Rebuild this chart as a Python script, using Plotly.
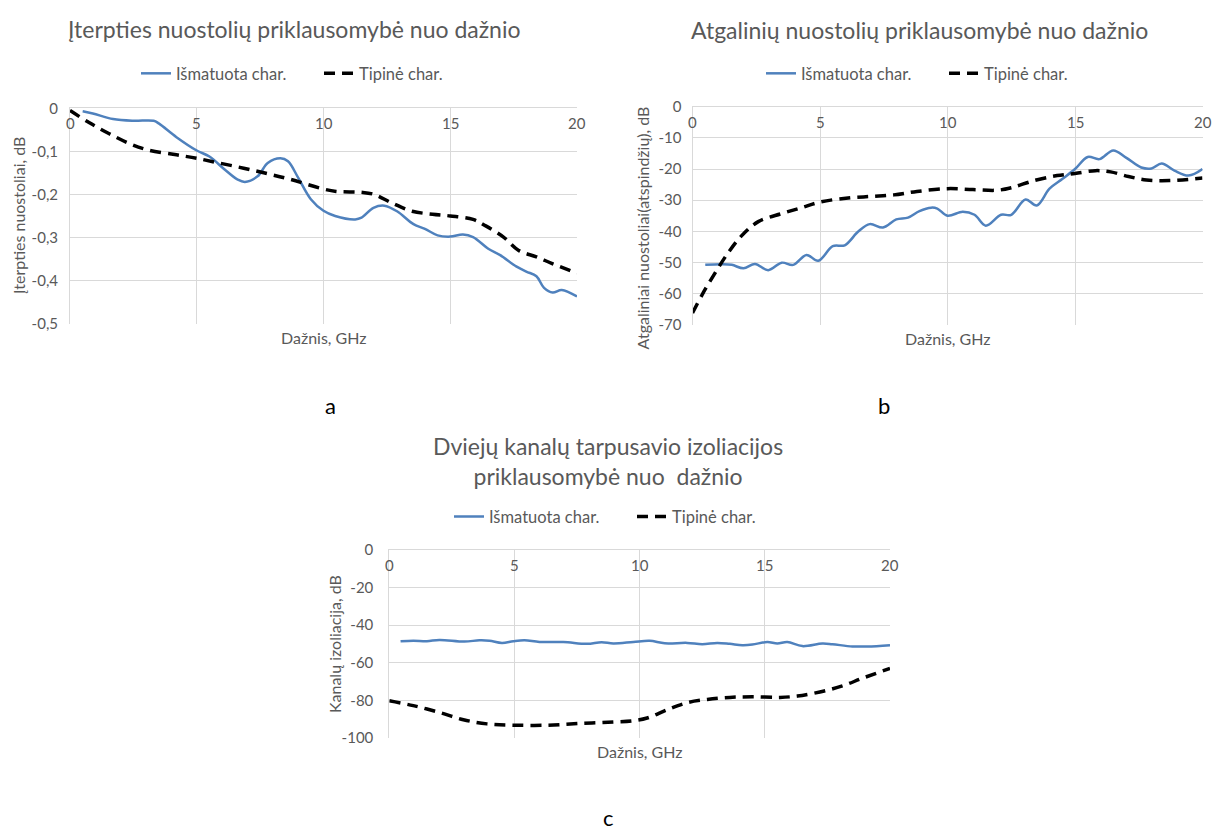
import plotly.graph_objects as go

# ---------------- data ----------------
# (a) insertion loss
a_meas_x = [0.5, 0.9, 1.7, 2.5, 3.3, 3.5, 4.2, 5.0, 5.5, 6.1, 6.6, 6.9, 7.4, 7.8, 8.3, 8.6, 9.0, 9.5,
            10.0, 10.46, 11.25, 11.5, 11.97, 12.4, 12.9, 13.55, 14.0, 14.5, 15.0, 15.5, 15.9, 16.5,
            16.97, 17.6, 18.0, 18.4, 18.7, 19.04, 19.4, 20.0]
a_meas_y = [-0.007, -0.012, -0.025, -0.029, -0.029, -0.035, -0.067, -0.098, -0.112, -0.142, -0.165,
            -0.171, -0.158, -0.127, -0.116, -0.123, -0.161, -0.211, -0.238, -0.25, -0.258, -0.254,
            -0.231, -0.226, -0.239, -0.269, -0.28, -0.295, -0.298, -0.293, -0.299, -0.326, -0.341,
            -0.367, -0.379, -0.39, -0.417, -0.428, -0.422, -0.437]
a_typ_x = [0.0, 0.75, 1.55, 2.35, 3.1, 4.2, 5.0, 5.8, 6.85, 7.8, 8.7, 9.9, 10.5, 11.5, 12.0, 12.7,
           13.5, 14.3, 15.0, 15.9, 16.4, 17.1, 17.7, 18.4, 19.0, 20.0]
a_typ_y = [-0.005, -0.033, -0.059, -0.082, -0.097, -0.108, -0.116, -0.126, -0.139, -0.152, -0.165,
           -0.186, -0.193, -0.195, -0.2, -0.22, -0.239, -0.246, -0.25, -0.258, -0.273, -0.299,
           -0.33, -0.345, -0.36, -0.383]

# (b) return loss
b_meas_x = [0.5, 1.15, 1.54, 2.0, 2.45, 2.97, 3.5, 3.95, 4.47, 4.93, 5.5, 5.97, 6.5, 6.95, 7.47,
            7.99, 8.45, 8.9, 9.36, 9.6, 10.0, 10.6, 11.06, 11.5, 12.1, 12.5, 13.06, 13.5, 14.0,
            14.5, 15.0, 15.5, 15.96, 16.5, 17.0, 17.6, 18.0, 18.4, 18.9, 19.45, 20.0]
b_meas_y = [-50.8, -50.6, -50.8, -51.9, -50.5, -52.5, -50.1, -50.8, -47.6, -49.5, -44.8, -44.5,
            -40.1, -37.7, -38.8, -36.2, -35.6, -33.5, -32.4, -32.7, -35.0, -33.7, -34.7, -38.2,
            -34.7, -34.7, -29.8, -31.7, -26.3, -23.2, -20.0, -16.1, -16.8, -14.0, -16.3, -19.5,
            -19.8, -18.2, -20.5, -22.1, -20.0]
b_typ_x = [0.0, 0.37, 0.9, 1.4, 1.93, 2.58, 3.5, 4.28, 5.0, 6.1, 7.0, 7.9, 8.8, 10.0, 11.0, 11.96,
           12.5, 13.4, 14.3, 15.0, 15.8, 16.4, 17.1, 17.8, 18.7, 20.0]
b_typ_y = [-66.3, -60.5, -53.2, -46.9, -41.4, -36.9, -34.3, -32.4, -30.6, -29.3, -28.8, -28.3,
           -27.2, -26.3, -26.6, -26.8, -26.0, -23.7, -22.1, -21.4, -20.5, -20.9, -22.4, -23.5,
           -23.7, -22.9]

# (c) isolation
c_meas_x = [0.45, 0.96, 1.5, 2.0, 3.0, 3.6, 4.0, 4.5, 4.95, 5.4, 6.0, 6.95, 7.9, 8.48, 8.95, 9.75,
            10.4, 11.0, 11.9, 12.5, 13.1, 13.6, 14.1, 14.5, 15.1, 15.5, 15.9, 16.5, 17.3, 17.7,
            18.5, 19.1, 20.0]
c_meas_y = [-48.5, -48.2, -48.5, -47.8, -48.7, -48.0, -48.2, -49.4, -48.5, -48.0, -48.9, -48.9,
            -49.9, -49.0, -49.7, -48.9, -48.3, -49.6, -49.4, -50.1, -49.4, -49.9, -50.6, -50.3,
            -48.9, -49.7, -48.9, -51.1, -49.7, -50.1, -51.3, -51.3, -50.6]
c_typ_x = [0.0, 0.96, 2.0, 2.96, 3.9, 4.95, 6.3, 7.6, 8.95, 9.75, 10.3, 11.1, 11.9, 12.7, 13.6,
           14.5, 15.6, 16.3, 17.2, 18.1, 18.9, 20.0]
c_typ_y = [-80.2, -82.8, -86.4, -90.3, -92.5, -93.2, -93.2, -92.3, -91.5, -90.8, -89.4, -85.0,
           -81.2, -79.5, -78.4, -78.1, -78.4, -77.7, -75.5, -72.3, -68.2, -63.0]

x_ticks = [0, 5, 10, 15, 20]
x_ticktext = ["0", "5", "10", "15", "20"]
a_yticks = [0, -0.1, -0.2, -0.3, -0.4, -0.5]
a_yticktext = ["0", "-0,1", "-0,2", "-0,3", "-0,4", "-0,5"]
b_yticks = [0, -10, -20, -30, -40, -50, -60, -70]
b_yticktext = ["0", "-10", "-20", "-30", "-40", "-50", "-60", "-70"]
c_yticks = [0, -20, -40, -60, -80, -100]
c_yticktext = ["0", "-20", "-40", "-60", "-80", "-100"]

names = ["Išmatuota char.", "Tipinė char."]
titles = ["Įterpties nuostolių priklausomybė nuo dažnio",
          "Atgalinių nuostolių priklausomybė nuo dažnio",
          "Dviejų kanalų tarpusavio izoliacijos<br>priklausomybė nuo  dažnio"]
ytitles = ["Įterpties nuostoliai, dB", "Atgaliniai nuostoliai(atspindžių), dB", "Kanalų izoliacija, dB"]
xtitle = "Dažnis, GHz"
letters = ["a", "b", "c"]

# ---------------- styling ----------------
W, H = 1214, 835
FONT = "Lato, Carlito, 'Open Sans', sans-serif"
GREY = "#595959"
GRID = "#d9d9d9"
BLUE = "#4f81bd"

def px(xp):
    return xp / W

def py(yp):
    return 1 - yp / H

# plot boxes in pixels: (left, right, top, bottom)
boxes = [(70, 577, 100.5, 320.5), (692.5, 1202.5, 99, 321.5), (389.3, 890, 552, 744)]
yranges = [[-0.5, 0], [-70, 0], [-100, 0]]
yticks = [(a_yticks, a_yticktext), (b_yticks, b_yticktext), (c_yticks, c_yticktext)]
series = [(a_meas_x, a_meas_y, a_typ_x, a_typ_y),
          (b_meas_x, b_meas_y, b_typ_x, b_typ_y),
          (c_meas_x, c_meas_y, c_typ_x, c_typ_y)]
legend_left = [(141, 65), (766, 65), (454, 518)]
title_pos = [(294, 19), (919, 20), (608, 461)]
ytitle_x = [19, 642, 334]
ystandoff = [8, 7, 12]
letter_pos = [(330, 404), (884, 404), (608, 825)]

fig = go.Figure()
layout = dict(width=W, height=H, margin=dict(l=0, r=0, t=0, b=0),
              paper_bgcolor="white", plot_bgcolor="white",
              font=dict(family=FONT, color=GREY, size=13))
annotations = []

for i in range(3):
    sfx = "" if i == 0 else str(i + 1)
    leg = "legend" if i == 0 else "legend" + str(i + 1)
    mx, my, tx, ty = series[i]
    fig.add_trace(go.Scatter(x=mx, y=my, mode="lines", name=names[0],
                             line=dict(color=BLUE, width=2.5, shape="spline", smoothing=1.0),
                             xaxis="x" + sfx, yaxis="y" + sfx, legend=leg))
    fig.add_trace(go.Scatter(x=tx, y=ty, mode="lines", name=names[1],
                             line=dict(color="black", width=3.5, dash="11px,7px",
                                       shape="spline", smoothing=1.0),
                             xaxis="x" + sfx, yaxis="y" + sfx, legend=leg))
    l, r, t, b = boxes[i]
    layout["xaxis" + sfx] = dict(domain=[px(l), px(r)], range=[0, 20], side="top",
                                 anchor="y" + sfx, tickvals=x_ticks, showticklabels=False,
                                 ticks="",
                                 showgrid=True, gridcolor=GRID, gridwidth=1,
                                 showline=True, linecolor=GRID, linewidth=1,
                                 zeroline=False, fixedrange=True)
    layout["yaxis" + sfx] = dict(domain=[py(b), py(t)], range=yranges[i], anchor="x" + sfx,
                                 tickvals=yticks[i][0], ticktext=yticks[i][1], ticks="",
                                 ticklabelstandoff=ystandoff[i],
                                 showgrid=True, gridcolor=GRID, gridwidth=1,
                                 showline=True, linecolor=GRID, linewidth=1,
                                 zeroline=False, fixedrange=True,
                                 tickfont=dict(size=15, color=GREY))
    # x tick labels, placed by the x axis scale just below the top axis line
    for tv, tt in zip(x_ticks, x_ticktext):
        annotations.append(dict(text=tt, x=tv, xref="x" + sfx, y=py(t + 15), yref="paper",
                                xanchor="center", yanchor="middle", showarrow=False,
                                font=dict(size=15, color=GREY)))
    lx, ly = legend_left[i]
    layout[leg] = dict(orientation="h", x=px(lx - 5), y=py(ly), xanchor="left", yanchor="middle",
                       font=dict(size=16.5, color=GREY), bgcolor="rgba(0,0,0,0)",
                       entrywidth=138, entrywidthmode="pixels", itemwidth=30, tracegroupgap=0)
    tx_, ty_ = title_pos[i]
    annotations.append(dict(text=titles[i], x=px(tx_), y=py(ty_), xref="paper", yref="paper",
                            xanchor="center", yanchor="middle", showarrow=False,
                            font=dict(size=23, color=GREY)))
    annotations.append(dict(text=xtitle, x=px((l + r) / 2), y=py(b + 14), xref="paper",
                            yref="paper", xanchor="center", yanchor="middle", showarrow=False,
                            font=dict(size=16, color=GREY)))
    annotations.append(dict(text=ytitles[i], x=px(ytitle_x[i]), y=py((t + b) / 2 + (12 if i == 1 else 0)),
                            xref="paper", yref="paper", xanchor="center", yanchor="middle",
                            textangle=-90, showarrow=False, font=dict(size=16, color=GREY)))
    lpx, lpy = letter_pos[i]
    annotations.append(dict(text=letters[i], x=px(lpx), y=py(lpy), xref="paper", yref="paper",
                            xanchor="center", yanchor="middle", showarrow=False,
                            font=dict(size=22, color="black")))

layout["annotations"] = annotations
layout["showlegend"] = True
fig.update_layout(**layout)
fig.write_html("out.html")
